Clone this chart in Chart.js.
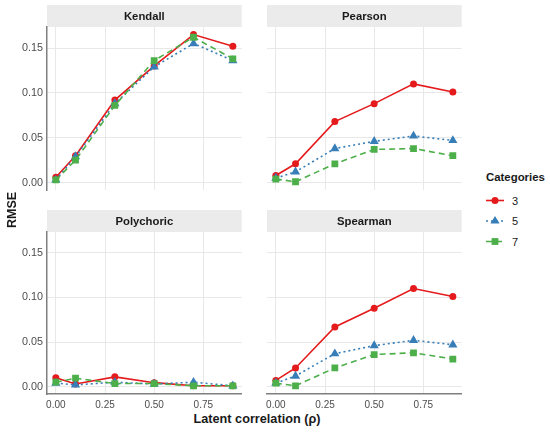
<!DOCTYPE html>
<html>
<head>
<meta charset="utf-8">
<script src="https://cdn.jsdelivr.net/npm/chart.js@4.4.1/dist/chart.umd.min.js"></script>
<style>
  body { margin: 0; width: 550px; height: 433px; position: relative; overflow: hidden; background: #fff;
         font-family: "Liberation Sans", Arial, sans-serif; }
  .box { position: absolute; }
  .txt { position: absolute; color: #1a1a1a; font-weight: bold; white-space: nowrap; }
</style>
</head>
<body>
<div class="box" id="b0"><canvas id="c0"></canvas></div>
<div class="box" id="b1"><canvas id="c1"></canvas></div>
<div class="box" id="b2"><canvas id="c2"></canvas></div>
<div class="box" id="b3"><canvas id="c3"></canvas></div>

<div class="txt" style="left:5px;top:228px;font-size:12.5px;line-height:14px;transform:rotate(-90deg);transform-origin:0 0;">RMSE</div>
<div class="txt" style="left:257px;top:412px;font-size:12.7px;transform:translateX(-50%);">Latent correlation (ρ)</div>

<div class="txt" style="left:486px;top:171px;font-size:11.4px;">Categories</div>
<svg class="box" style="left:480px;top:190px" width="60" height="62" id="leg"></svg>

<script>
// x positions (latent correlation)
const rho = [0, 0.1, 0.3, 0.5, 0.7, 0.9];
const categories = ['3', '5', '7'];
const panels = ['Kendall', 'Pearson', 'Polychoric', 'Spearman'];

// RMSE per panel, per category
const kendall3 = [0.006, 0.030, 0.092, 0.130, 0.165, 0.152];
const kendall5 = [0.003, 0.029, 0.088, 0.129, 0.155, 0.136];
const kendall7 = [0.003, 0.025, 0.086, 0.136, 0.162, 0.138];

const pearson3 = [0.008, 0.021, 0.068, 0.088, 0.110, 0.101];
const pearson5 = [0.005, 0.012, 0.038, 0.046, 0.052, 0.047];
const pearson7 = [0.004, 0.001, 0.021, 0.037, 0.038, 0.030];

const polychoric3 = [0.010, 0.003, 0.011, 0.0045, 0.001, 0.001];
const polychoric5 = [0.004, 0.002, 0.005, 0.003, 0.005, 0.001];
const polychoric7 = [0.005, 0.0095, 0.0035, 0.0035, 0.001, 0.001];

const spearman3 = [0.007, 0.021, 0.067, 0.088, 0.110, 0.101];
const spearman5 = [0.004, 0.012, 0.037, 0.046, 0.052, 0.047];
const spearman7 = [0.004, 0.001, 0.021, 0.036, 0.038, 0.031];

const xTicks = [0, 0.25, 0.5, 0.75];
const yTicks = [0, 0.05, 0.10, 0.15];

const series = [
  [kendall3, kendall5, kendall7],
  [pearson3, pearson5, pearson7],
  [polychoric3, polychoric5, polychoric7],
  [spearman3, spearman5, spearman7],
];

const colors = ['#E41A1C', '#377EB8', '#4DAF4A'];
const shapes = ['circle', 'triangle', 'rect'];
const radii = [3.5, 5.3, 4.8];
const dashes = [[], [2, 3], [6, 4]];

const gridColor = '#e8e8e8';
const axisColor = '#7f7f7f';

// box geometry: [left, top, width, height, yAxisWidth]; x axis always reserves 18px
const boxes = [
  [12, 5, 235, 203, 35],
  [257, 5, 210, 203, 10],
  [12, 210, 235, 202, 35],
  [257, 210, 210, 202, 10],
];

const stripPlugin = {
  id: 'strip',
  beforeDraw(chart, args, opts) {
    const { ctx, chartArea } = chart;
    ctx.save();
    ctx.fillStyle = '#ebebeb';
    ctx.fillRect(chartArea.left, 0, chartArea.right - chartArea.left, chartArea.top);
    ctx.fillStyle = '#1a1a1a';
    ctx.font = 'bold 11.3px "Liberation Sans", Arial, sans-serif';
    ctx.textAlign = 'center';
    ctx.textBaseline = 'middle';
    ctx.fillText(opts.text, (chartArea.left + chartArea.right) / 2, chartArea.top / 2 + 0.5);
    ctx.restore();
  }
};

panels.forEach((name, i) => {
  const [l, t, w, h, yw] = boxes[i];
  const box = document.getElementById('b' + i);
  box.style.left = l + 'px';
  box.style.top = t + 'px';
  box.style.width = w + 'px';
  box.style.height = h + 'px';
  const leftCol = i % 2 === 0;
  const bottomRow = i >= 2;

  new Chart(document.getElementById('c' + i), {
    type: 'line',
    data: {
      datasets: categories.map((c, k) => ({
        label: c,
        data: rho.map((x, j) => ({ x: x, y: series[i][k][j] })),
        borderColor: colors[k],
        backgroundColor: colors[k],
        borderWidth: 1.6,
        borderDash: dashes[k],
        pointStyle: shapes[k],
        pointRadius: radii[k],
        pointBorderWidth: 0,
        order: 3 - k,
        tension: 0
      }))
    },
    options: {
      responsive: true,
      maintainAspectRatio: false,
      animation: false,
      events: [],
      layout: { padding: { top: 22, left: 0, right: 0, bottom: 0 } },
      plugins: {
        legend: { display: false },
        tooltip: { enabled: false },
        strip: { text: name }
      },
      scales: {
        x: {
          type: 'linear',
          min: -0.045,
          max: 0.945,
          afterBuildTicks: s => { s.ticks = xTicks.map(v => ({ value: v })); },
          afterFit: s => { s.height = 18; },
          grid: { color: gridColor, lineWidth: 1, drawTicks: false },
          border: { display: bottomRow, color: axisColor, width: 1.5 },
          ticks: {
            display: bottomRow,
            padding: 5,
            color: '#4d4d4d',
            font: { family: '"Liberation Sans", Arial, sans-serif', size: 10 },
            maxRotation: 0,
            callback: v => Number(v).toFixed(2)
          }
        },
        y: {
          type: 'linear',
          min: -0.0082,
          max: 0.1734,
          afterBuildTicks: s => { s.ticks = yTicks.map(v => ({ value: v })); },
          afterFit: s => { s.width = yw; },
          grid: { color: gridColor, lineWidth: 1, drawTicks: false },
          border: { display: leftCol, color: axisColor, width: 1.5 },
          ticks: {
            display: leftCol,
            padding: 4,
            color: '#4d4d4d',
            font: { family: '"Liberation Sans", Arial, sans-serif', size: 10.8 },
            callback: v => Number(v).toFixed(2)
          }
        }
      }
    },
    plugins: [stripPlugin]
  });
});

// legend keys
const svg = document.getElementById('leg');
let s = '';
categories.forEach((c, k) => {
  const y = 10.5 + k * 20.5;
  const col = colors[k];
  const dash = dashes[k].length ? ` stroke-dasharray="${dashes[k].join(',')}"` : '';
  s += `<line x1="6" x2="24" y1="${y}" y2="${y}" stroke="${col}" stroke-width="1.6"${dash}/>`;
  if (shapes[k] === 'circle') s += `<circle cx="15" cy="${y}" r="3.5" fill="${col}"/>`;
  if (shapes[k] === 'triangle') s += `<polygon points="15,${y - 5} ${15 - 4.6},${y + 2.6} ${15 + 4.6},${y + 2.6}" fill="${col}"/>`;
  if (shapes[k] === 'rect') s += `<rect x="11.6" y="${y - 3.4}" width="6.8" height="6.8" fill="${col}"/>`;
  s += `<text x="32" y="${y + 4}" font-size="11" fill="#1a1a1a" font-family="Liberation Sans, Arial, sans-serif">${c}</text>`;
});
svg.innerHTML = s;
</script>
</body>
</html>
